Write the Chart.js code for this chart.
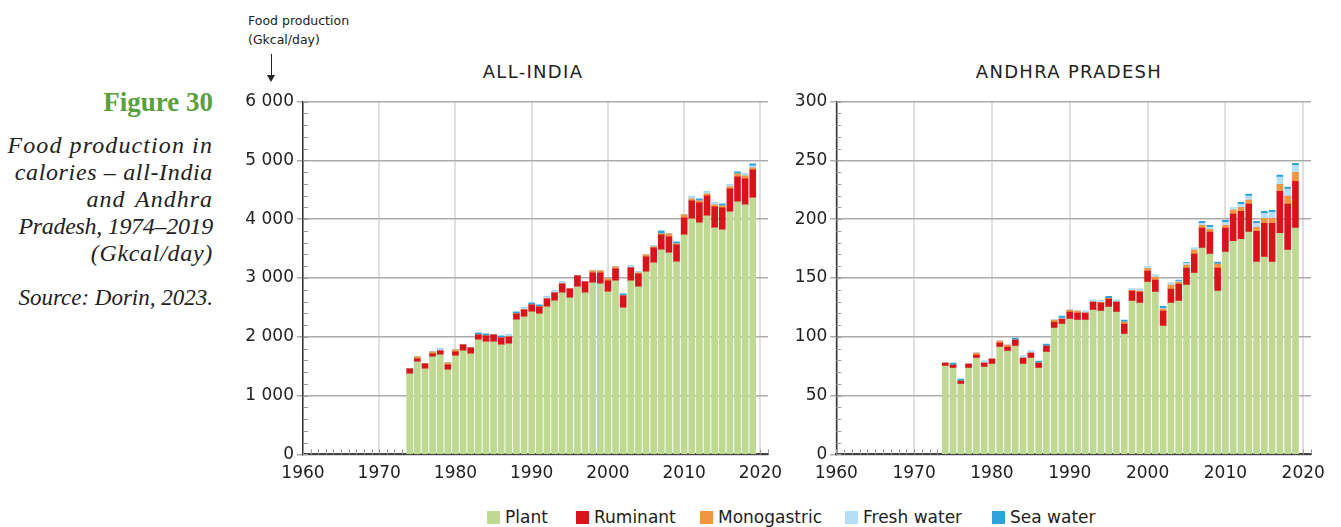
<!DOCTYPE html>
<html>
<head>
<meta charset="utf-8">
<script src="https://cdn.jsdelivr.net/npm/chart.js@4/dist/chart.umd.min.js"></script>
<style>
  body { margin: 0; background: #fff; width: 1341px; height: 527px; overflow: hidden; position: relative; font-family: "DejaVu Sans", sans-serif; color: #222; }
  .fig { position: absolute; right: 1128px; top: 87px; font: bold 27px "Liberation Serif", serif; color: #5aa03c; white-space: nowrap; }
  .cap { position: absolute; right: 1128px; top: 132px; font: italic 24px/27px "Liberation Serif", serif; color: #222; text-align: right; white-space: nowrap; }
  .cap span { display: block; }
  .src { position: absolute; right: 1128px; top: 285px; font: italic 23px "Liberation Serif", serif; color: #222; white-space: nowrap; }
  .unit { position: absolute; left: 248px; top: 11px; font-size: 12.5px; line-height: 19px; color: #222; }
  .arrow { position: absolute; left: 270.5px; top: 54px; width: 1.2px; height: 22px; background: #222; }
  .head { position: absolute; left: 267px; top: 75px; width: 0; height: 0; border-left: 4px solid transparent; border-right: 4px solid transparent; border-top: 7px solid #222; }
  .ttl { position: absolute; top: 61px; font-size: 18px; letter-spacing: 1.3px; transform: translateX(-50%); white-space: nowrap; }
  canvas { position: absolute; }
  .leg { position: absolute; top: 507px; font-size: 17px; white-space: nowrap; }
  .leg i { display: inline-block; width: 13px; height: 13px; margin-right: 5px; vertical-align: -1px; }
</style>
</head>
<body>
<div class="fig">Figure 30</div>
<div class="cap">
  <span style="letter-spacing:1.1px">Food production in</span>
  <span style="letter-spacing:0.65px">calories – all-India</span>
  <span style="letter-spacing:1px; word-spacing:3px">and Andhra</span>
  <span style="letter-spacing:-0.3px">Pradesh, 1974–2019</span>
  <span style="letter-spacing:0.7px">(Gkcal/day)</span>
</div>
<div class="src">Source: Dorin, 2023.</div>
<div class="unit">Food production<br>(Gkcal/day)</div>
<div class="arrow"></div><div class="head"></div>
<div class="ttl" style="left:533px">ALL-INDIA</div>
<div class="ttl" style="left:1069px">ANDHRA PRADESH</div>

<canvas id="india" style="left:220px; top:80px" width="580" height="410"></canvas>
<canvas id="andhra" style="left:770px; top:80px" width="569" height="410"></canvas>

<div id="legend"></div>

<script>
const years = [];
for (let y = 1974; y <= 2019; y++) years.push(y);

const seriesNames = ['Plant', 'Ruminant', 'Monogastric', 'Fresh water', 'Sea water'];
const seriesColors = ['#bfd892', '#d7141a', '#f29441', '#b5def7', '#2fa2da'];

// All-India (Gkcal/day)
const indiaPlant = [1368, 1572, 1453, 1657, 1691, 1436, 1674, 1759, 1708, 1947, 1912, 1912, 1861, 1878, 2287, 2338,
  2423, 2389, 2508, 2610, 2747, 2662, 2849, 2747, 2917, 2900, 2764, 2951, 2491, 2951, 2849, 3104, 3257, 3479, 3428, 3274,
  3734, 4006, 3938, 4058, 3853, 3819, 4126, 4296, 4245, 4364];
const indiaRuminant = [85, 51, 85, 51, 68, 85, 68, 102, 102, 85, 102, 120, 120, 120, 102, 119,
  119, 119, 137, 137, 153, 153, 187, 187, 170, 187, 187, 204, 205, 221, 221, 256, 256, 255, 272, 290,
  290, 307, 341, 340, 358, 375, 391, 426, 443, 477];
const indiaMono = [0, 34, 0, 34, 0, 34, 34, 0, 0, 0, 0, 0, 0, 0, 0, 0,
  0, 0, 0, 0, 0, 0, 0, 0, 34, 34, 34, 34, 0, 0, 17, 34, 17, 17, 51, 17,
  51, 34, 34, 34, 34, 34, 34, 51, 51, 34];
const indiaFresh = [0, 0, 0, 0, 34, 0, 0, 0, 0, 0, 0, 0, 0, 34, 0, 34,
  0, 0, 34, 34, 34, 0, 0, 0, 0, 0, 0, 0, 0, 34, 17, 0, 17, 0, 0, 0,
  0, 34, 0, 34, 34, 0, 34, 0, 34, 34];
const indiaSea = [0, 0, 0, 0, 0, 0, 0, 0, 0, 34, 34, 0, 34, 0, 34, 0,
  34, 34, 0, 0, 0, 0, 0, 0, 0, 0, 0, 0, 34, 0, 0, 0, 0, 51, 0, 34,
  0, 0, 34, 0, 0, 34, 0, 34, 0, 34];

// Andhra Pradesh (Gkcal/day)
const apPlant = [75.1, 73.4, 59.8, 73.4, 81.9, 74.2, 76.8, 91.2, 87.8, 92.1, 76.8, 81.9, 73.4, 87.0, 107.4, 110.8,
  115.0, 114.2, 114.2, 122.7, 121.8, 125.2, 121.0, 102.3, 130.3, 128.6, 146.5, 138.0, 109.1, 128.6, 130.3, 143.9, 154.1, 175.4, 170.3, 138.8,
  172.0, 181.3, 183.0, 189.0, 163.5, 167.7, 163.5, 188.1, 173.7, 192.4];
const apRuminant = [2.5, 2.5, 2.5, 3.4, 2.5, 3.4, 4.2, 3.4, 3.4, 5.1, 5.1, 4.2, 4.2, 5.1, 5.1, 4.2,
  6.0, 6.0, 6.0, 6.8, 6.8, 6.8, 8.5, 8.5, 8.5, 9.4, 9.3, 10.2, 12.7, 11.9, 14.5, 14.5, 16.2, 17.0, 18.7, 19.6,
  20.4, 23.0, 23.8, 23.8, 26.3, 28.9, 33.1, 35.7, 39.1, 39.9];
const apMono = [0, 0, 0, 0, 1.7, 0, 0, 1.7, 1.7, 0, 0, 0, 0, 0, 1.7, 0,
  1.7, 1.7, 0, 0, 0.8, 0.8, 0, 1.7, 0.8, 0.8, 2.5, 2.5, 1.7, 3.4, 1.7, 2.5, 3.4, 2.5, 2.5, 3.4,
  2.5, 3.4, 3.4, 3.4, 3.4, 4.2, 4.2, 6.0, 6.8, 7.6];
const apFresh = [0, 0, 0, 0, 0, 1.7, 0, 0, 0, 0, 1.7, 1.7, 0, 0, 0, 0.8,
  0, 0, 1.7, 1.7, 1.7, 0, 1.7, 0, 1.7, 1.7, 1.7, 1.7, 0.8, 1.7, 0.8, 1.7, 1.7, 1.7, 1.7, 0,
  2.5, 2.5, 2.5, 3.4, 3.4, 4.2, 5.1, 6.0, 6.0, 6.0];
const apSea = [0, 1.7, 1.7, 0, 0, 0, 0, 0, 0, 1.7, 0, 0, 1.7, 1.7, 0, 1.7,
  0, 0, 0, 0, 0, 1.7, 0, 1.7, 0, 0, 0, 0, 1.7, 0, 1.0, 0.8, 0, 1.7, 1.7, 1.7,
  1.7, 0, 1.7, 1.7, 1.7, 1.7, 1.7, 1.7, 1.7, 1.7];

const xTicks = { min: 1960, max: 2021, step: 10 };
const indiaTicks = { max: 6000, step: 1000, minor: 200 };
const apTicks = { max: 300, step: 50, minor: 10 };

function fmt(v) {
  return String(v).replace(/\B(?=(\d{3})+(?!\d))/g, ' ');
}

// small minor tick marks along both axes, inside the plot
const minorTicks = {
  id: 'minorTicks',
  beforeDatasetsDraw(chart, args, opts) {
    const { ctx, scales: { x, y } } = chart;
    ctx.save();
    ctx.strokeStyle = '#9a9a9a';
    ctx.lineWidth = 1;
    ctx.beginPath();
    for (let yr = xTicks.min; yr <= xTicks.max; yr++) {
      const px = Math.round(x.getPixelForValue(yr)) + 0.5;
      ctx.moveTo(px, y.bottom);
      ctx.lineTo(px, y.bottom - 5);
    }
    for (let v = 0; v <= opts.max; v += opts.minor) {
      const py = Math.round(y.getPixelForValue(v)) + 0.5;
      ctx.moveTo(x.left, py);
      ctx.lineTo(x.left + 5, py);
    }
    ctx.stroke();
    ctx.restore();
  }
};

const font = { family: 'DejaVu Sans', size: 17 };

function makeChart(id, series, yt, yWidth, pad) {
  const datasets = series.map((vals, i) => ({
    label: seriesNames[i],
    data: years.map((yr, k) => ({ x: yr, y: vals[k] })),
    backgroundColor: seriesColors[i],
    borderWidth: 0,
    barThickness: 6
  }));
  return new Chart(document.getElementById(id), {
    type: 'bar',
    data: { datasets },
    plugins: [minorTicks],
    options: {
      responsive: false,
      animation: false,
      layout: { padding: pad },
      plugins: {
        legend: { display: false },
        tooltip: { enabled: false },
        minorTicks: yt
      },
      scales: {
        x: {
          type: 'linear',
          stacked: true,
          offset: false,
          min: xTicks.min,
          max: xTicks.max,
          afterFit(s) { s.height = 30; },
          ticks: {
            stepSize: xTicks.step,
            includeBounds: false,
            autoSkip: false,
            maxRotation: 0,
            padding: 9,
            color: '#222',
            font,
            callback: v => String(v)
          },
          grid: { offset: false, color: '#e0e0e0', lineWidth: 2, drawTicks: false },
          border: { color: '#444', width: 2 }
        },
        y: {
          stacked: true,
          min: 0,
          max: yt.max,
          afterFit(s) { s.width = yWidth; },
          ticks: {
            stepSize: yt.step,
            padding: 3,
            color: '#222',
            font,
            callback: v => fmt(v)
          },
          grid: { color: '#ababab', lineWidth: 1.5, tickLength: 6, tickColor: '#ababab' },
          border: { color: '#333', width: 1.5 }
        }
      }
    }
  });
}

makeChart('india', [indiaPlant, indiaRuminant, indiaMono, indiaFresh, indiaSea], indiaTicks, 83,
  { left: 0, right: 32, top: 21.7, bottom: 5.7 });
makeChart('andhra', [apPlant, apRuminant, apMono, apFresh, apSea], apTicks, 66.3,
  { left: 0, right: 28, top: 21.7, bottom: 5.7 });

// legend shared by both panels
const legendLeft = [487, 576, 700, 845, 992];
const legend = document.getElementById('legend');
seriesNames.forEach((name, i) => {
  const d = document.createElement('div');
  d.className = 'leg';
  d.style.left = legendLeft[i] + 'px';
  d.innerHTML = '<i style="background:' + seriesColors[i] + '"></i>' + name;
  legend.appendChild(d);
});
</script>
</body>
</html>
